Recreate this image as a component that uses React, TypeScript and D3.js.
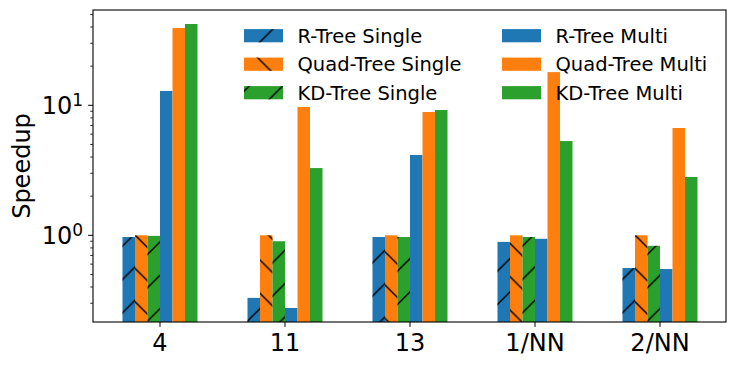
import * as d3 from "d3";

const categories = ["4", "11", "13", "1/NN", "2/NN"];
const seriesNames = [
  "R-Tree Single",
  "Quad-Tree Single",
  "KD-Tree Single",
  "R-Tree Multi",
  "Quad-Tree Multi",
  "KD-Tree Multi",
];
const rTreeSingle = [0.97, 0.33, 0.97, 0.89, 0.56];
const quadTreeSingle = [1.0, 1.0, 1.0, 1.0, 1.0];
const kdTreeSingle = [0.99, 0.9, 0.97, 0.97, 0.83];
const rTreeMulti = [12.9, 0.276, 4.15, 0.94, 0.55];
const quadTreeMulti = [39.3, 9.7, 8.88, 18.0, 6.69];
const kdTreeMulti = [42.2, 3.29, 9.2, 5.31, 2.81];

const seriesValues = [rTreeSingle, quadTreeSingle, kdTreeSingle, rTreeMulti, quadTreeMulti, kdTreeMulti];
const colors = ["#1f77b4", "#ff7f0e", "#2ca02c", "#1f77b4", "#ff7f0e", "#2ca02c"];
// hatch per series: "/" , "\\" or none
const hatches = ["fwd", "back", "fwd", null, null, null];

const W = 736;
const H = 366;
const left = 93;
const right = 726;
const top = 10;
const bottom = 322;
const HS = 33.33; // hatch spacing
const font = "DejaVu Sans, sans-serif";

export default function App() {
  const x = d3.scaleLinear().domain([-0.536, 4.528]).range([left, right]);
  const y = d3.scaleLog().domain([0.2153, 54.1]).range([bottom, top]);
  const barW = 0.1;

  const major = [1, 10];
  const minor = y.ticks().filter((t) => !major.includes(t));

  return (
    <svg
      width={W}
      height={H}
      style={{ position: "absolute", left: 0, top: 0, background: "white" }}
      fontFamily={font}
    >
      <defs>
        <clipPath id="plot">
          <rect x={left} y={top} width={right - left} height={bottom - top} />
        </clipPath>
        <pattern id="fwd" patternUnits="userSpaceOnUse" width={HS} height={HS} patternTransform="translate(2,0)">
          <path
            d={`M-2,2L2,-2M-2,${HS + 2}L${HS + 2},-2M${HS - 2},${HS + 2}L${HS + 2},${HS - 2}`}
            stroke="black"
            strokeWidth={1.4}
          />
        </pattern>
        <pattern id="back" patternUnits="userSpaceOnUse" width={HS} height={HS}>
          <path
            d={`M-2,-2L${HS + 2},${HS + 2}M-2,${HS - 2}L2,${HS + 2}M${HS - 2},-2L${HS + 2},2`}
            stroke="black"
            strokeWidth={1.4}
          />
        </pattern>
      </defs>

      <g clipPath="url(#plot)">
        {seriesValues.map((vals, s) =>
          vals.map((v, i) => {
            const x0 = x(i - 0.3 + s * barW);
            const x1 = x(i - 0.3 + (s + 1) * barW);
            const yt = y(v);
            return (
              <g key={`${s}-${i}`}>
                <rect x={x0} y={yt} width={x1 - x0} height={bottom - yt} fill={colors[s]} />
                {hatches[s] && (
                  <rect x={x0} y={yt} width={x1 - x0} height={bottom - yt} fill={`url(#${hatches[s]})`} />
                )}
              </g>
            );
          })
        )}
      </g>

      {/* y ticks */}
      {minor.map((t) => (
        <line key={`m${t}`} x1={left} x2={left - 2.8} y1={y(t)} y2={y(t)} stroke="black" strokeWidth={0.8} />
      ))}
      {major.map((t) => (
        <g key={`M${t}`}>
          <line x1={left} x2={left - 4.9} y1={y(t)} y2={y(t)} stroke="black" strokeWidth={1} />
          <text x={left - 10} y={y(t) + 8.7} textAnchor="end" fontSize={24} fill="black">
            10
            <tspan fontSize={17} dy={-8.5}>
              {Math.round(Math.log10(t))}
            </tspan>
          </text>
        </g>
      ))}

      {/* x ticks */}
      {categories.map((c, i) => (
        <g key={c}>
          <line x1={x(i)} x2={x(i)} y1={bottom} y2={bottom + 4.9} stroke="black" strokeWidth={1} />
          <text x={x(i)} y={351} textAnchor="middle" fontSize={24} fill="black">
            {c}
          </text>
        </g>
      ))}

      <text
        transform={`translate(30,${(top + bottom) / 2}) rotate(-90)`}
        textAnchor="middle"
        fontSize={24}
        fill="black"
      >
        Speedup
      </text>

      <rect x={left} y={top} width={right - left} height={bottom - top} fill="none" stroke="black" strokeWidth={1.1} />

      {/* legend */}
      {seriesNames.map((name, s) => {
        const col = Math.floor(s / 3);
        const row = s % 3;
        const hx = col === 0 ? 244 : 502;
        const cy = 35.7 + row * 28.5;
        return (
          <g key={name}>
            <rect x={hx} y={cy - 6.6} width={39} height={13.2} fill={colors[s]} />
            {hatches[s] && <rect x={hx} y={cy - 6.6} width={39} height={13.2} fill={`url(#${hatches[s]})`} />}
            <text x={hx + 53.5} y={cy + 7} fontSize={19.5} fill="black">
              {name}
            </text>
          </g>
        );
      })}
    </svg>
  );
}
